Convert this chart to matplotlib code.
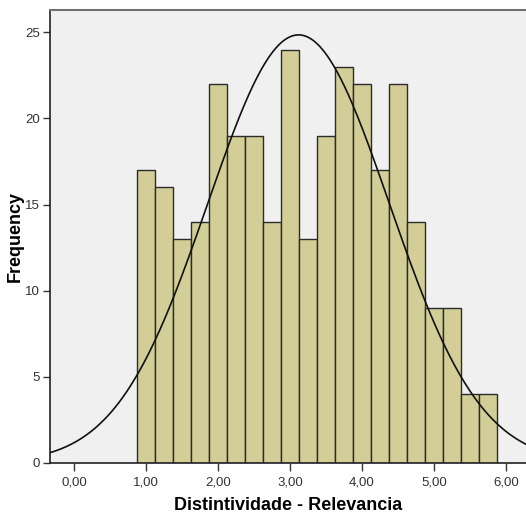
import numpy as np
import matplotlib.pyplot as plt

plt.rcParams['font.family'] = ['Liberation Sans', 'DejaVu Sans']

# Histograma: 20 classes de largura 0,25 a partir de 0,88
bin_start = 0.88
bin_width = 0.25
counts = [17, 16, 13, 14, 22, 19, 19, 14, 24, 13,
          19, 23, 22, 17, 22, 14, 9, 9, 4, 4]

# Parâmetros da curva normal ajustada
mean = 3.12
std_dev = 1.26

x_ticks = [0, 1, 2, 3, 4, 5, 6]
x_tick_labels = ["0,00", "1,00", "2,00", "3,00", "4,00", "5,00", "6,00"]
y_ticks = [0, 5, 10, 15, 20, 25]

fig = plt.figure(figsize=(5.26, 5.15), dpi=100)
ax = fig.add_axes([50 / 526, 52.3 / 515, 1 - 50 / 526, (462.7 - 10) / 515])
ax.set_facecolor("#f0f0f0")

lefts = bin_start + bin_width * np.arange(len(counts))
ax.bar(lefts, counts, width=bin_width, align="edge", color="#d3ce97",
       edgecolor="#2b2b2b", linewidth=1.0, zorder=2)

# Curva normal escalada para o total de casos
n = sum(counts)
xs = np.linspace(-0.4, 6.4, 400)
ys = n * bin_width / (std_dev * np.sqrt(2 * np.pi)) * np.exp(-(xs - mean) ** 2 / (2 * std_dev ** 2))
ax.plot(xs, ys, color="#111111", linewidth=1.2, zorder=3)

ax.set_xlim(-0.333, 6.28)
ax.set_ylim(0, 26.3)
ax.set_xticks(x_ticks)
ax.set_xticklabels(x_tick_labels)
ax.set_yticks(y_ticks)
ax.tick_params(axis="both", direction="out", width=1, color="#333333",
               labelsize=9.5, labelcolor="#333333")
ax.tick_params(axis="x", length=6, pad=4)
ax.tick_params(axis="y", length=5, pad=2)

for side in ["left", "bottom"]:
    ax.spines[side].set_color("#222222")
    ax.spines[side].set_linewidth(1.2)
ax.spines["top"].set_color("#707070")
ax.spines["top"].set_linewidth(1.5)
ax.spines["right"].set_visible(False)

ax.set_xlabel("Distintividade - Relevancia", fontsize=13, fontweight="bold", labelpad=6)
ax.set_ylabel("Frequency", fontsize=13, fontweight="bold", labelpad=1)

fig.savefig("out.png", dpi=100)
